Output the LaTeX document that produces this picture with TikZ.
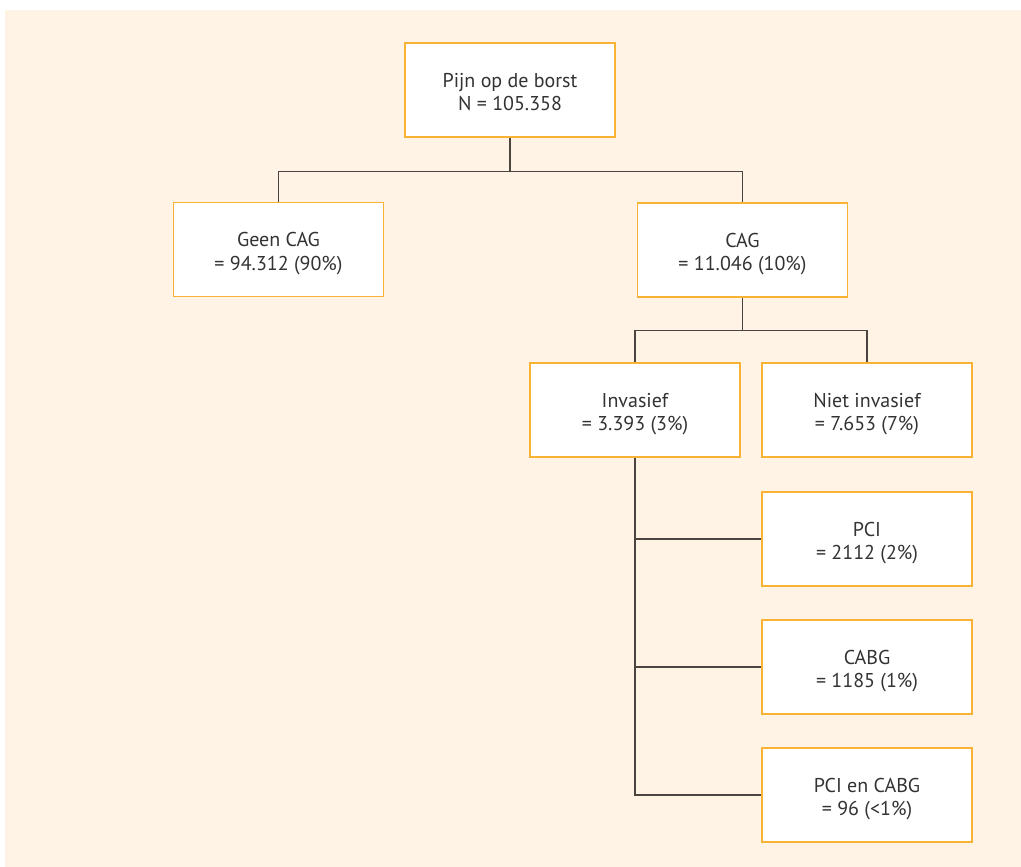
\documentclass[tikz,border=0pt]{standalone}
\usepackage{fontspec}
\setmainfont{PT Sans}
\usetikzlibrary{calc}
\definecolor{cream}{HTML}{FEF3E4}
\definecolor{boxorange}{HTML}{F8B334}
\definecolor{linegray}{HTML}{4A4540}
\definecolor{txt}{HTML}{333333}
\newcommand{\twoline}[2]{\rule{0pt}{23pt}#1\\#2\rule[-5pt]{0pt}{5pt}}
\begin{document}
\begin{tikzpicture}[x=1pt,y=-1pt,
  box/.style={draw=boxorange,line width=1.5pt,fill=white,minimum width=210pt,minimum height=94pt,
    align=center,text=txt,font=\fontsize{20}{23.5}\selectfont,inner sep=0pt},
  conn/.style={draw=linegray,line width=1.4pt}]
\useasboundingbox (0,0) rectangle (1021,867);
\fill[white] (0,0) rectangle (1021,867);
\fill[cream] (5,10) rectangle (1021,867);
\node[box] (root) at (510,90) {\twoline{Pijn op de borst}{N = 105.358}};
\node[box] (geen) at (278.5,249.5) {\twoline{Geen CAG}{= 94.312 (90\%)}};
\node[box] (cag) at (742.5,250) {\twoline{CAG}{= 11.046 (10\%)}};
\node[box] (inv) at (635,410) {\twoline{Invasief}{= 3.393 (3\%)}};
\node[box] (niet) at (867,410) {\twoline{Niet invasief}{= 7.653 (7\%)}};
\node[box] (pci) at (867,539) {\twoline{PCI}{= 2112 (2\%)}};
\node[box] (cabg) at (867,667) {\twoline{CABG}{= 1185 (1\%)}};
\node[box] (both) at (867,795) {\twoline{PCI en CABG}{= 96 (<1\%)}};
\coordinate (j1) at ($(root.south)+(0,34)$);
\draw[conn] (root.south) -- (j1) -| (geen.north);
\draw[conn] (j1) -| (cag.north);
\coordinate (j2) at ($(cag.south)+(0,33)$);
\draw[conn] (cag.south) -- (j2) -| (inv.north);
\draw[conn] (j2) -| (niet.north);
\draw[conn] (inv.south) |- (pci.west);
\draw[conn] (inv.south) |- (cabg.west);
\draw[conn] (inv.south) |- (both.west);
\end{tikzpicture}
\end{document}
